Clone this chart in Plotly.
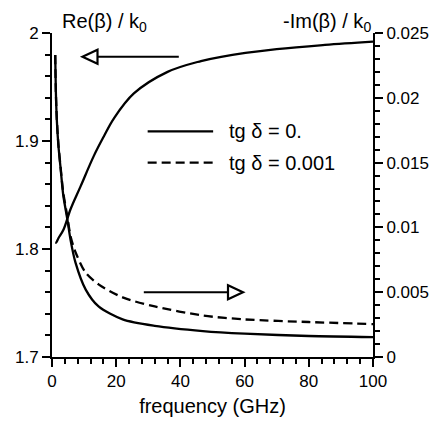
import plotly.graph_objects as go

# Re(beta)/k0, left axis
re_freq = [1.0, 1.3, 2.0, 3.6, 5.8, 8.9, 13, 16.1, 19.3, 25.5, 36, 46.4, 52.7, 70, 85, 100]
re_beta = [1.806, 1.806, 1.810, 1.818, 1.837, 1.858, 1.886, 1.904, 1.921, 1.944, 1.964, 1.974, 1.978, 1.985, 1.989, 1.992]

# -Im(beta)/k0, right axis
im_freq = [1.0, 1.2, 1.5, 2.0, 2.7, 3.5, 4.8, 5.8, 7.3, 10.5, 14.5, 22, 32, 47, 60, 80, 100]
im_tg0 = [0.0233, 0.0205, 0.0183, 0.0163, 0.0145, 0.0125, 0.0106, 0.0090, 0.0073, 0.0052,
          0.0039, 0.0029, 0.0024, 0.0020, 0.0018, 0.00162, 0.00154]
im_tg001 = [0.0233, 0.0205, 0.0184, 0.0164, 0.0146, 0.0127, 0.0108, 0.0093, 0.0081, 0.0065,
            0.0056, 0.0046, 0.0039, 0.0032, 0.0029, 0.0027, 0.00254]

legend_labels = ["tg \u03b4 = 0.", "tg \u03b4 = 0.001"]

FONT = "Liberation Sans, Arial, sans-serif"

fig = go.Figure()
fig.add_trace(go.Scatter(x=re_freq, y=re_beta, mode="lines", line=dict(color="black", width=2.3, shape="spline", smoothing=1.0)))
fig.add_trace(go.Scatter(x=im_freq, y=im_tg0, yaxis="y2", mode="lines",
                         line=dict(color="black", width=2.3, shape="spline", smoothing=0.8)))
fig.add_trace(go.Scatter(x=im_freq, y=im_tg001, yaxis="y2", mode="lines",
                         line=dict(color="black", width=2.3, dash="9px,5px", shape="spline", smoothing=0.8)))

shapes = []
# arrow pointing left (to Re axis)
shapes.append(dict(type="line", xref="x", yref="y", x0=39.5, x1=12, y0=1.978, y1=1.978, line=dict(color="black", width=2)))
shapes.append(dict(type="path", xref="x", yref="y", xsizemode="pixel", ysizemode="pixel", xanchor=9.5, yanchor=1.978,
                   path="M0,0 L15,7 L15,-7 Z", fillcolor="white", line=dict(color="black", width=2.2)))
# arrow pointing right (to Im axis)
shapes.append(dict(type="line", xref="x", yref="y2", x0=28.6, x1=57, y0=0.005, y1=0.005, line=dict(color="black", width=2)))
shapes.append(dict(type="path", xref="x", yref="y2", xsizemode="pixel", ysizemode="pixel", xanchor=59.5, yanchor=0.005,
                   path="M0,0 L-15,7 L-15,-7 Z", fillcolor="white", line=dict(color="black", width=2.2)))
# legend samples
shapes.append(dict(type="line", xref="x", yref="y", x0=29.8, x1=50.2, y0=1.909, y1=1.909, line=dict(color="black", width=2.2)))
shapes.append(dict(type="line", xref="x", yref="y", x0=29.8, x1=50.2, y0=1.880, y1=1.880,
                   line=dict(color="black", width=2.2, dash="9px,5px")))

big = dict(family=FONT, size=20, color="black")
annotations = [
    dict(text=legend_labels[0], x=54.5, y=1.909, xref="x", yref="y", xanchor="left", yanchor="middle", showarrow=False, font=big),
    dict(text=legend_labels[1], x=54.5, y=1.880, xref="x", yref="y", xanchor="left", yanchor="middle", showarrow=False, font=big),
    dict(text="Re(\u03b2) / k<sub>0</sub>", x=0.025, y=1.033, xref="paper", yref="paper", xanchor="left", yanchor="middle",
         showarrow=False, font=big),
    dict(text="-Im(\u03b2) / k<sub>0</sub>", x=1.0, y=1.033, xref="paper", yref="paper", xanchor="right", yanchor="middle",
         showarrow=False, font=big),
]

axis_common = dict(showline=True, linecolor="black", linewidth=2, ticks="outside", ticklen=8, tickwidth=1.5,
                   tickcolor="black", showgrid=False, zeroline=False, automargin=False)

# the page body adds an 8px offset, so margins are shifted by that amount
fig.update_layout(
    width=439, height=422,
    margin=dict(l=44, r=74, t=25, b=73),
    paper_bgcolor="white", plot_bgcolor="white",
    showlegend=False,
    font=dict(family=FONT, size=17, color="black"),
    xaxis=dict(range=[0, 100], dtick=20, title=dict(text="frequency (GHz)", standoff=9, font=dict(size=20)), **axis_common),
    yaxis=dict(range=[1.7, 2.0], dtick=0.1, tickformat="~g", **axis_common),
    yaxis2=dict(range=[0, 0.025], dtick=0.005, tickformat="~g", overlaying="y", side="right", **axis_common),
    shapes=shapes,
    annotations=annotations,
)
fig.update_xaxes(minor=dict(dtick=4, ticks="outside", ticklen=5, tickwidth=1.5, tickcolor="black", showgrid=False))
fig.update_yaxes(minor=dict(ticks="outside", ticklen=5, tickwidth=1.5, tickcolor="black", showgrid=False))
fig.layout.yaxis.minor.dtick = 0.02
fig.layout.yaxis2.minor.dtick = 0.001

fig.write_html("out.html")
